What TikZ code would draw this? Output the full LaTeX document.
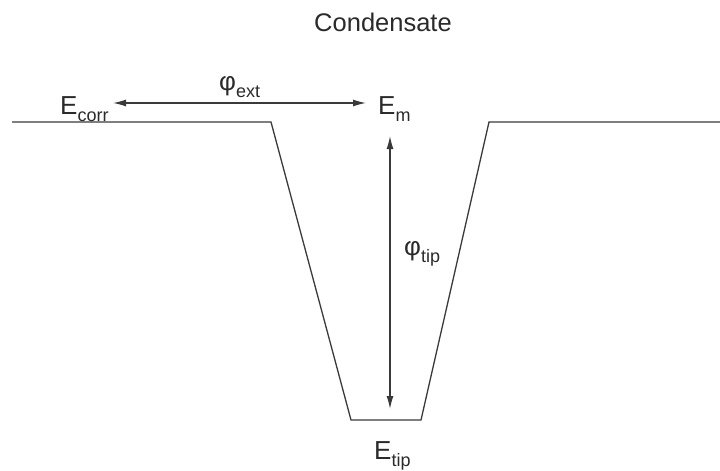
\documentclass[tikz,border=0pt]{standalone}
\usepackage{fontspec}
\setmainfont{Liberation Sans}
\usetikzlibrary{arrows.meta}
\definecolor{ink}{HTML}{2A2A2A}
\definecolor{wire}{HTML}{3A3A3A}
\newcommand{\mysub}[1]{\raisebox{-7pt}{\fontsize{18}{18}\selectfont #1}}
\tikzset{
  lbl/.style={inner sep=0pt, anchor=base west, text=ink, font=\fontsize{26}{26}\selectfont},
  wall/.style={draw=wire, line width=1.3pt, line join=miter},
  dim/.style={draw=wire, line width=1.3pt, {Latex[length=13pt,width=7pt]}-{Latex[length=13pt,width=7pt]}}
}
\begin{document}
\begin{tikzpicture}[x=1pt,y=-1pt]
\useasboundingbox (0,0) rectangle (720,471);
\node[inner sep=0pt, text=ink, font=\fontsize{25.5}{25.5}\selectfont] (title) at (383,22) {Condensate};
\node[lbl] (ecorr) at (60,114) {E\mysub{corr}};
\node[lbl] (em) at (378,114) {E\mysub{m}};
\node[lbl] (phiext) at (219,90) {φ\mysub{ext}};
\node[lbl] (phitip) at (404,255) {φ\mysub{tip}};
\node[lbl] (etip) at (374,459) {E\mysub{tip}};
\coordinate (h1) at (113,103);
\coordinate (h2) at (366,103);
\coordinate (v1) at (390,136);
\coordinate (v2) at (390,409);
\draw[dim] (h1) -- (h2);
\draw[dim] (v1) -- (v2);
\coordinate (p1) at (12,122);
\coordinate (p2) at (271,122);
\coordinate (p3) at (351,420);
\coordinate (p4) at (421,420);
\coordinate (p5) at (489,122);
\coordinate (p6) at (720,122);
\draw[wall] (p1) -- (p2) -- (p3) -- (p4) -- (p5) -- (p6);
\end{tikzpicture}
\end{document}
